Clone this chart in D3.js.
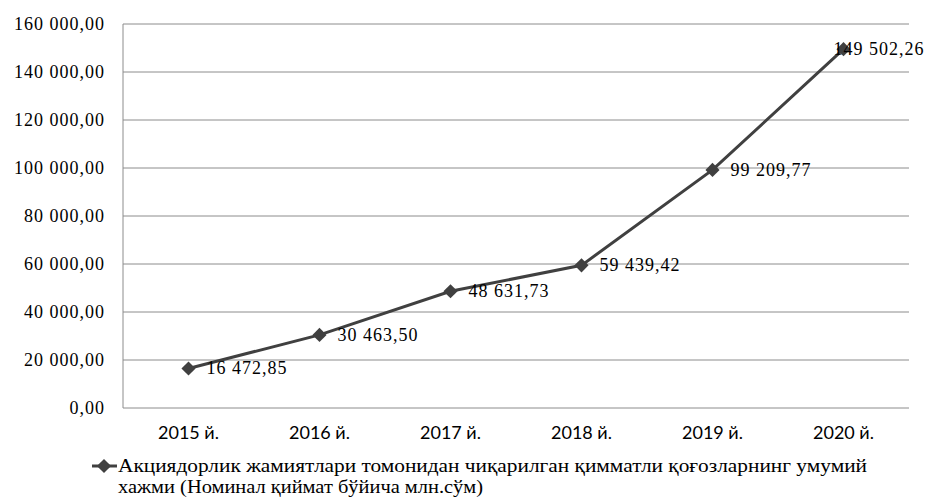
<!DOCTYPE html>
<html>
<head>
<meta charset="utf-8">
<script src="https://cdn.jsdelivr.net/npm/d3@7"></script>
<style>
  body { margin: 0; background: #fff; }
</style>
</head>
<body>
<svg class="chart" width="926" height="497"></svg>
<script>
// Chart data.
let years = ["2015 й.", "2016 й.", "2017 й.", "2018 й.", "2019 й.", "2020 й."];
let values = [16472.85, 30463.50, 48631.73, 59439.42, 99209.77, 149502.26];
let yTicks = [0, 20000, 40000, 60000, 80000, 100000, 120000, 140000, 160000];
let legendLines = [
    "Акциядорлик жамиятлари томонидан чиқарилган қимматли қоғозларнинг умумий",
    "хажми (Номинал қиймат бўйича млн.сўм)"
];

let svg = d3.select(".chart");
let plot = { left: 123, top: 24, right: 909, bottom: 408 };
let lineColor = "#404040";
let serif = "'Liberation Serif', 'Times New Roman', serif";
let sans = "'Lato', 'Liberation Sans', sans-serif";

let xScale = d3.scaleBand()
    .domain(years)
    .range([plot.left, plot.right]);

let yScale = d3.scaleLinear()
    .domain([0, 160000])
    .range([plot.bottom, plot.top]);

// Number format like "160 000,00".
function fmt(v) {
    let parts = v.toFixed(2).split(".");
    let intPart = parts[0].replace(/\B(?=(\d{3})+(?!\d))/g, " ");
    return intPart + "," + parts[1];
}

function cx(d) {
    return xScale(d) + xScale.bandwidth() / 2;
}

// Gridlines.
svg.append("g")
    .selectAll("line")
    .data(yTicks.filter(d => d > 0))
    .join("line")
    .attr("x1", plot.left)
    .attr("x2", plot.right)
    .attr("y1", d => yScale(d))
    .attr("y2", d => yScale(d))
    .attr("stroke", "#8c8c8c")
    .attr("stroke-width", 1);

// Axes lines.
svg.append("line")
    .attr("x1", plot.left).attr("x2", plot.right)
    .attr("y1", plot.bottom).attr("y2", plot.bottom)
    .attr("stroke", "#8c8c8c");
svg.append("line")
    .attr("x1", plot.left).attr("x2", plot.left)
    .attr("y1", plot.top).attr("y2", plot.bottom)
    .attr("stroke", "#8c8c8c");

// Y tick labels.
svg.append("g")
    .selectAll("text")
    .data(yTicks)
    .join("text")
    .attr("x", 105)
    .attr("y", d => yScale(d) + 6)
    .attr("text-anchor", "end")
    .style("font-family", serif)
    .style("font-size", "18px")
    .style("letter-spacing", "1px")
    .attr("fill", "#000")
    .text(d => fmt(d));

// X tick labels.
svg.append("g")
    .selectAll("text")
    .data(years)
    .join("text")
    .attr("x", d => cx(d))
    .attr("y", 439)
    .attr("text-anchor", "middle")
    .style("font-family", sans)
    .style("font-size", "18px")
    .attr("fill", "#000")
    .text(d => d);

// Line.
let points = years.map((y, i) => ({ year: y, value: values[i] }));
let line = d3.line()
    .x(d => cx(d.year))
    .y(d => yScale(d.value));

svg.append("path")
    .datum(points)
    .attr("d", line)
    .attr("fill", "none")
    .attr("stroke", lineColor)
    .attr("stroke-width", 3);

// Markers (square turned 45 degrees).
let marker = d3.symbol().type(d3.symbolSquare).size(100);
svg.append("g")
    .selectAll("path")
    .data(points)
    .join("path")
    .attr("d", marker)
    .attr("transform", d => "translate(" + cx(d.year) + "," + yScale(d.value) + ") rotate(45)")
    .attr("fill", lineColor);

// Data labels.
svg.append("g")
    .selectAll("text")
    .data(points)
    .join("text")
    .attr("x", (d, i) => cx(d.year) + (i == points.length - 1 ? -10 : 18))
    .attr("y", d => yScale(d.value) + 6)
    .style("font-family", serif)
    .style("font-size", "18px")
    .style("letter-spacing", "1px")
    .attr("fill", "#000")
    .text(d => fmt(d.value));

// Legend.
let legendY = 466;
svg.append("line")
    .attr("x1", 92).attr("x2", 117)
    .attr("y1", legendY).attr("y2", legendY)
    .attr("stroke", lineColor)
    .attr("stroke-width", 3);
svg.append("path")
    .attr("d", marker)
    .attr("transform", "translate(104," + legendY + ") rotate(45)")
    .attr("fill", lineColor);

svg.append("text")
    .attr("x", 118)
    .attr("y", 472)
    .style("font-family", serif)
    .style("font-size", "18px")
    .attr("textLength", 749)
    .attr("lengthAdjust", "spacingAndGlyphs")
    .text(legendLines[0]);
svg.append("text")
    .attr("x", 118)
    .attr("y", 493)
    .style("font-family", serif)
    .style("font-size", "18px")
    .attr("textLength", 365)
    .attr("lengthAdjust", "spacingAndGlyphs")
    .text(legendLines[1]);
</script>
</body>
</html>
